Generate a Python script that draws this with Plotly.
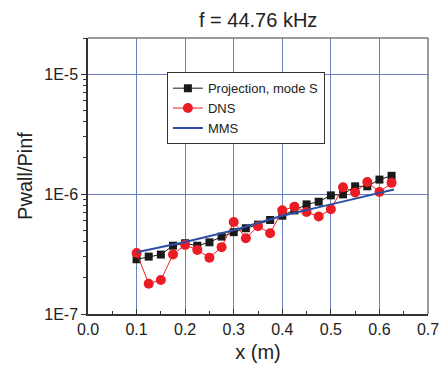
import plotly.graph_objects as go

x_pts = [0.1, 0.125, 0.15, 0.175, 0.2, 0.225, 0.25, 0.275, 0.3, 0.325, 0.35,
         0.375, 0.4, 0.425, 0.45, 0.475, 0.5, 0.525, 0.55, 0.575, 0.6, 0.625]
proj_s = [2.86e-7, 3.01e-7, 3.13e-7, 3.71e-7, 3.89e-7, 3.71e-7, 3.96e-7, 4.42e-7,
          4.81e-7, 5.19e-7, 5.56e-7, 6.08e-7, 6.6e-7, 7.31e-7, 8.2e-7, 8.63e-7,
          9.75e-7, 9.94e-7, 1.16e-6, 1.16e-6, 1.32e-6, 1.42e-6]
dns = [3.23e-7, 1.79e-7, 1.92e-7, 3.13e-7, 3.77e-7, 3.42e-7, 2.95e-7, 3.61e-7,
       5.85e-7, 4.28e-7, 5.4e-7, 4.71e-7, 7.31e-7, 7.85e-7, 7.09e-7, 6.49e-7,
       7.46e-7, 1.14e-6, 1.03e-6, 1.26e-6, 1.04e-6, 1.24e-6]
mms_x = [0.1, 0.2, 0.3, 0.4, 0.5, 0.63]
mms = [3.27e-7, 3.98e-7, 5.0e-7, 6.6e-7, 8.2e-7, 1.09e-6]

x_tickvals = [0.0, 0.1, 0.2, 0.3, 0.4, 0.5, 0.6, 0.7]
x_ticktext = ["0.0", "0.1", "0.2", "0.3", "0.4", "0.5", "0.6", "0.7"]
y_tickvals = [1e-7, 1e-6, 1e-5]
y_ticktext = ["1E-7", "1E-6", "1E-5"]

FONT = "Liberation Sans, Arial, sans-serif"

fig = go.Figure()
fig.add_trace(go.Scatter(
    x=x_pts, y=proj_s, mode="lines+markers", name="Projection, mode S",
    line=dict(color="#1a1a1a", width=1),
    marker=dict(symbol="square", size=8, color="#1a1a1a"),
))
fig.add_trace(go.Scatter(
    x=x_pts, y=dns, mode="lines+markers", name="DNS",
    line=dict(color="#ec1c24", width=1),
    marker=dict(symbol="circle", size=10, color="#ec1c24"),
))
fig.add_trace(go.Scatter(
    x=mms_x, y=mms, mode="lines", name="MMS",
    line=dict(color="#2e4fa3", width=2),
))

fig.update_layout(
    width=439, height=369,
    margin=dict(l=88, r=11, t=38, b=55),
    paper_bgcolor="white", plot_bgcolor="white",
    font=dict(family=FONT, color="#222"),
    title=dict(text="f = 44.76 kHz", x=0.588, xanchor="center",
               y=0.945, yanchor="middle", font=dict(size=20, family=FONT, color="#222")),
    showlegend=True,
    legend=dict(x=0.232, y=0.876, xanchor="left", yanchor="top",
                bgcolor="white", bordercolor="#333", borderwidth=1,
                font=dict(size=13, family=FONT, color="#222"),
                tracegroupgap=0, itemwidth=30),
    shapes=[
        dict(type="line", xref="paper", yref="paper", x0=0, x1=1, y0=1, y1=1,
             line=dict(color="#777", width=1.5)),
        dict(type="line", xref="paper", yref="paper", x0=1, x1=1, y0=0, y1=1,
             line=dict(color="#777", width=1.5)),
    ],
)

fig.update_xaxes(
    range=[0, 0.7], tickvals=x_tickvals, ticktext=x_ticktext,
    ticklabeloverflow="allow",
    showgrid=True, gridcolor="#6a80c0", gridwidth=1,
    showline=True, linecolor="#333", linewidth=1.5,
    ticks="inside", ticklen=5, tickcolor="#333",
    minor=dict(dtick=0.05, tick0=0, ticks="inside", ticklen=3, tickcolor="#333", showgrid=False),
    tickfont=dict(size=16, family=FONT, color="#222"),
    title=dict(text="x (m)", font=dict(size=20, family=FONT, color="#222"), standoff=8),
    zeroline=False, automargin=False,
)
fig.update_yaxes(
    type="log", range=[-7, -4.699],
    tickvals=y_tickvals, ticktext=y_ticktext,
    showgrid=True, gridcolor="#6a80c0", gridwidth=1,
    showline=True, linecolor="#333", linewidth=1.5,
    ticks="outside", ticklen=5, tickcolor="#333",
    minor=dict(dtick="D1", ticks="outside", ticklen=3, tickcolor="#333", showgrid=False),
    tickfont=dict(size=16, family=FONT, color="#222"),
    title=dict(text="Pwall/Pinf", font=dict(size=20, family=FONT, color="#222"), standoff=6),
    zeroline=False,
)

fig.write_html("out.html")
